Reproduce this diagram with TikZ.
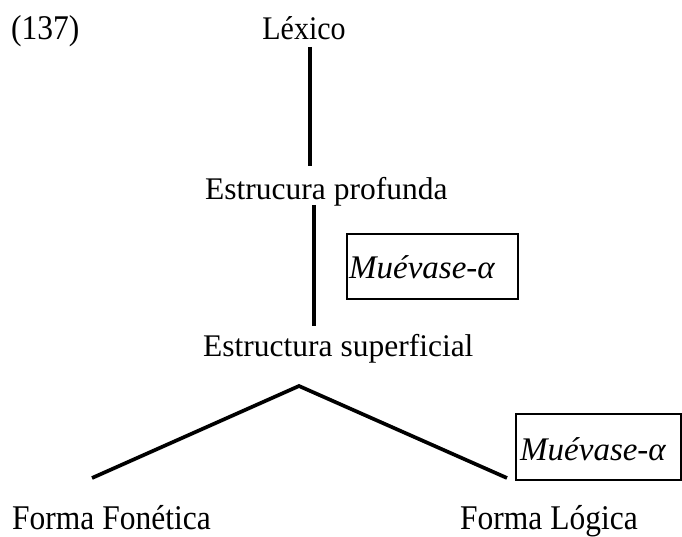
\documentclass[tikz,border=0pt]{standalone}
\usepackage{fontspec}
\usepackage{graphicx}
\setmainfont{Liberation Serif}
\newcommand\vstretch[1]{\scalebox{1}[1.1]{#1}}
\begin{document}
\begin{tikzpicture}[x=1pt,y=-1pt,
  lbl/.style={inner sep=0pt,anchor=base west,font=\fontsize{31.5}{38}\selectfont},
  rulelbl/.style={inner sep=0pt,anchor=base west,font=\fontsize{33}{40}\selectfont\itshape},
  conn/.style={line width=3.7pt},
  rulebox/.style={draw,line width=2pt}]
\useasboundingbox (0,0) rectangle (682,537);
% labels
\node[lbl] (n137) at (11,40) {\vstretch{(137)}};
\node[lbl,anchor=base,font=\fontsize{30}{36}\selectfont] (lex) at (304,40) {\vstretch{Léxico}};
\node[lbl] (ep) at (205,200) {Estrucura profunda};
\node[lbl] (es) at (203,356) {Estructura superficial};
\node[lbl] (ff) at (12,529) {\vstretch{Forma Fonética}};
\node[lbl] (fl) at (460,529) {\vstretch{Forma Lógica}};
% boxes
\draw[rulebox] (347,234) rectangle (518,299);
\node[rulelbl] (m1) at (349,278) {Muévase-α};
\draw[rulebox] (516,414) rectangle (681,480);
\node[rulelbl] (m2) at (520,460) {Muévase-α};
% connector ends
\coordinate (l1a) at (310,47);
\coordinate (l1b) at (310,166);
\coordinate (l2a) at (314,205);
\coordinate (l2b) at (314,326);
\coordinate (apex) at (299,386);
\coordinate (lend) at (92,478);
\coordinate (rend) at (507,478);
\draw[conn] (l1a) -- (l1b);
\draw[conn] (l2a) -- (l2b);
\draw[conn] (lend) -- (apex) -- (rend);
\end{tikzpicture}
\end{document}
